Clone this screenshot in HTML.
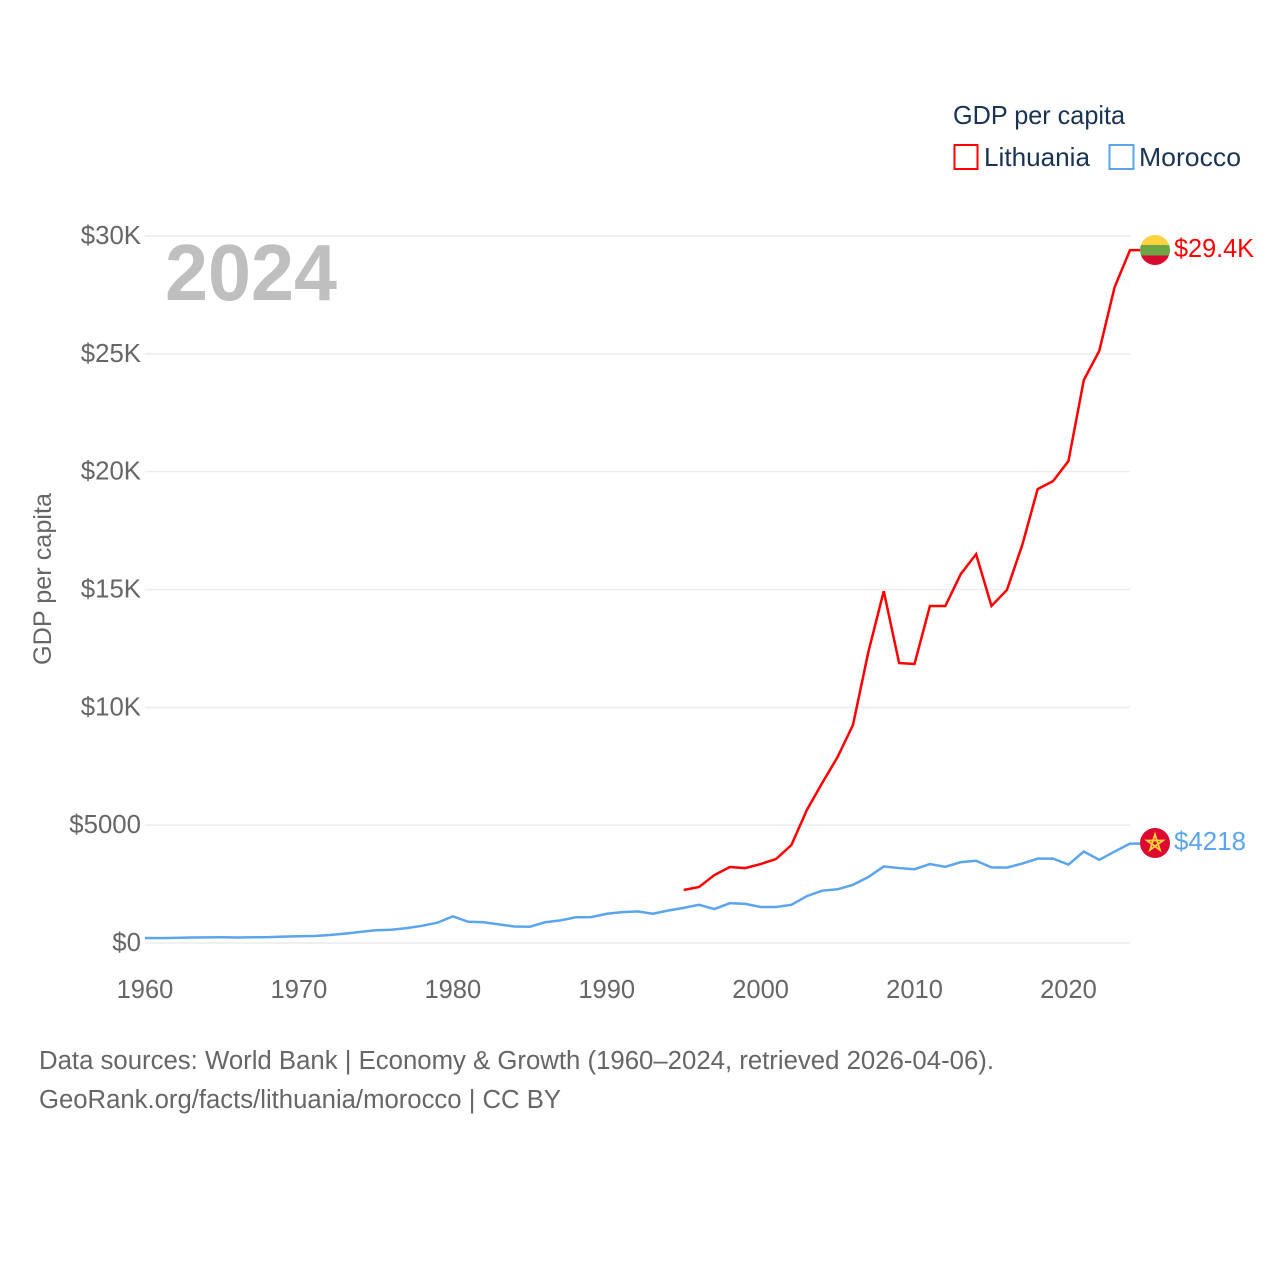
<!DOCTYPE html>
<html>
<head>
<meta charset="utf-8">
<title>GDP per capita: Lithuania vs Morocco</title>
<style>
html,body{margin:0;padding:0;background:#fff;}
svg{display:block;font-family:"Liberation Sans",sans-serif;}
</style>
</head>
<body>
<svg id="chart" width="1280" height="1280" viewBox="0 0 1280 1280" xmlns="http://www.w3.org/2000/svg">
  <rect width="1280" height="1280" fill="#ffffff"/>
  <g id="grid"></g>
  <g id="yticks"></g>
  <g id="xticks"></g>
  <text x="165" y="300" font-size="80" font-weight="700" fill="#bfbfbf" textLength="172" lengthAdjust="spacingAndGlyphs">2024</text>
  <text transform="translate(51,579) rotate(-90)" text-anchor="middle" font-size="25" fill="#666666" textLength="172" lengthAdjust="spacingAndGlyphs">GDP per capita</text>

  <text x="953" y="124" font-size="26" fill="#1a3353" textLength="172" lengthAdjust="spacingAndGlyphs">GDP per capita</text>
  <rect x="954.5" y="145" width="23" height="24" fill="none" stroke="#ff0000" stroke-width="2"/>
  <text x="984" y="166" font-size="26" fill="#1a3353" textLength="106" lengthAdjust="spacingAndGlyphs">Lithuania</text>
  <rect x="1109.5" y="145" width="24" height="24" fill="none" stroke="#5ba4ee" stroke-width="2"/>
  <text x="1139" y="166" font-size="26" fill="#1a3353" textLength="102" lengthAdjust="spacingAndGlyphs">Morocco</text>

  <g id="series"></g>

  <defs>
    <clipPath id="lt-clip"><circle cx="1155" cy="250" r="15"/></clipPath>
  </defs>
  <g clip-path="url(#lt-clip)">
    <rect x="1140" y="235" width="30" height="10" fill="#fdd33f"/>
    <rect x="1140" y="245" width="30" height="10.5" fill="#6ea544"/>
    <rect x="1140" y="255.500" width="30" height="10" fill="#d9082f"/>
  </g>
  <text x="1174" y="257" font-size="25.5" fill="#ff0000" textLength="80" lengthAdjust="spacingAndGlyphs">$29.4K</text>

  <g>
    <circle cx="1155" cy="843" r="15" fill="#dc0a30"/>
    <polygon points="1155,834.500 1160,850 1147,840.500 1163,840.500 1150,850" fill="none" stroke="#fcd03c" stroke-width="1.800"/>
  </g>
  <text x="1174" y="850" font-size="25.5" fill="#5ba4ee" textLength="72" lengthAdjust="spacingAndGlyphs">$4218</text>

  <text x="39" y="1069" font-size="25.5" fill="#666666" textLength="955" lengthAdjust="spacingAndGlyphs">Data sources: World Bank | Economy &amp; Growth (1960–2024, retrieved 2026-04-06).</text>
  <text x="39" y="1108" font-size="25.5" fill="#666666" textLength="522" lengthAdjust="spacingAndGlyphs">GeoRank.org/facts/lithuania/morocco | CC BY</text>
</svg>
<script>
var yTickValues = [0, 5000, 10000, 15000, 20000, 25000, 30000];
var yTickLabels = ["$0", "$5000", "$10K", "$15K", "$20K", "$25K", "$30K"];
var xTickValues = [1960, 1970, 1980, 1990, 2000, 2010, 2020];
var lithuaniaStartYear = 1995;
var lithuaniaValues = [2250, 2376, 2885, 3224, 3180, 3350, 3564, 4158, 5640, 6790, 7890, 9250, 12350, 14930, 11880, 11840, 14300, 14300, 15650, 16500, 14300, 14980, 16890, 19260, 19600, 20450, 23890, 25120, 27830, 29400];
var moroccoStartYear = 1960;
var moroccoValues = [210, 205, 220, 235, 240, 245, 235, 245, 250, 270, 285, 295, 340, 400, 470, 540, 560, 630, 730, 860, 1130, 900, 880, 790, 700, 690, 880, 960, 1090, 1100, 1240, 1310, 1340, 1240, 1380, 1490, 1620, 1440, 1690, 1660, 1530, 1530, 1620, 1990, 2220, 2280, 2470, 2800, 3250, 3180, 3130, 3350, 3230, 3430, 3490, 3210, 3200, 3370, 3580, 3580, 3330, 3880, 3530, 3880, 4218];

var NS = "http://www.w3.org/2000/svg";
function xScale(year) { return 145 + (year - 1960) * (1130 - 145) / 64; }
function yScale(v) { return 943 - v * (943 - 236) / 30000; }

var gridG = document.getElementById("grid");
var yG = document.getElementById("yticks");
var xG = document.getElementById("xticks");
var seriesG = document.getElementById("series");

yTickValues.forEach(function (v, i) {
  var line = document.createElementNS(NS, "line");
  
  
  line.setAttribute("x1", 145);
  line.setAttribute("x2", 1130);
  line.setAttribute("y1", yScale(v));
  line.setAttribute("y2", yScale(v));
  line.setAttribute("stroke", "#ececec");
  line.setAttribute("stroke-width", 1.5);
  gridG.appendChild(line);

  var t = document.createElementNS(NS, "text");
  
  
  t.setAttribute("x", 141);
  t.setAttribute("y", yScale(v) + 8);
  t.setAttribute("text-anchor", "end");
  t.setAttribute("font-size", 25.8);
  t.setAttribute("fill", "#666666");
  t.textContent = yTickLabels[i];
  yG.appendChild(t);
});

xTickValues.forEach(function (yr) {
  var t = document.createElementNS(NS, "text");
  
  
  t.setAttribute("x", xScale(yr));
  t.setAttribute("y", 998);
  t.setAttribute("text-anchor", "middle");
  t.setAttribute("font-size", 25.5);
  t.setAttribute("fill", "#666666");
  t.textContent = String(yr);
  xG.appendChild(t);
});

function seriesPoints(start, values) {
  return values.map(function (v, i) {
    return xScale(start + i).toFixed(2) + "," + yScale(v).toFixed(2);
  });
}

var moroccoPts = seriesPoints(moroccoStartYear, moroccoValues);
var moroccoLine = document.createElementNS(NS, "polyline");


moroccoLine.setAttribute("points", moroccoPts.join(" ") + " 1140," + yScale(moroccoValues[moroccoValues.length - 1]).toFixed(2));
moroccoLine.setAttribute("fill", "none");
moroccoLine.setAttribute("stroke", "#5ba4ee");
moroccoLine.setAttribute("stroke-width", 2.5);
seriesG.appendChild(moroccoLine);

var lithuaniaPts = seriesPoints(lithuaniaStartYear, lithuaniaValues);
var lithuaniaLine = document.createElementNS(NS, "polyline");


lithuaniaLine.setAttribute("points", lithuaniaPts.join(" ") + " 1140," + yScale(lithuaniaValues[lithuaniaValues.length - 1]).toFixed(2));
lithuaniaLine.setAttribute("fill", "none");
lithuaniaLine.setAttribute("stroke", "#ff0000");
lithuaniaLine.setAttribute("stroke-width", 2.5);
seriesG.appendChild(lithuaniaLine);
</script>
</body>
</html>
